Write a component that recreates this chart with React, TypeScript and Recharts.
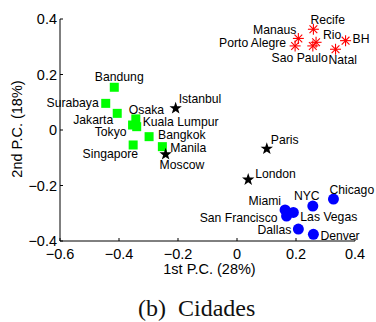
import React from 'react';
import { ScatterChart, Scatter, XAxis, YAxis } from 'recharts';

// ---- data ----
const asiaNames = ['Bandung', 'Surabaya', 'Jakarta', 'Osaka', 'Tokyo', 'Kuala Lumpur', 'Bangkok', 'Singapore', 'Manila'];
const asiaX = [-0.416, -0.445, -0.406, -0.343, -0.354, -0.34, -0.298, -0.352, -0.253];
const asiaY = [0.154, 0.096, 0.06, 0.04, 0.018, 0.012, -0.024, -0.054, -0.06];

const europeNames = ['Istanbul', 'Moscow', 'Paris', 'London'];
const europeX = [-0.208, -0.242, 0.101, 0.038];
const europeY = [0.08, -0.086, -0.066, -0.177];

const brazilNames = ['Recife', 'Manaus', 'Porto Alegre', 'Rio', 'Sao Paulo', 'BH', 'Natal'];
const brazilX = [0.259, 0.208, 0.197, 0.268, 0.257, 0.368, 0.334];
const brazilY = [0.363, 0.33, 0.303, 0.316, 0.303, 0.322, 0.291];

const usaNames = ['Chicago', 'NYC', 'Miami', 'Las Vegas', 'San Francisco', 'Dallas', 'Denver'];
const usaX = [0.327, 0.257, 0.163, 0.191, 0.168, 0.208, 0.259];
const usaY = [-0.249, -0.274, -0.288, -0.297, -0.31, -0.357, -0.376];

const xTicks = [-0.6, -0.4, -0.2, 0, 0.2, 0.4];
const yTicks = [-0.4, -0.2, 0, 0.2, 0.4];
const xLabel = '1st P.C. (28%)';
const yLabel = '2nd P.C. (18%)';
const captionTag = '(b)';
const captionText = 'Cidades';

// ---- label placement (styling only) ----
type Anchor = 'start' | 'middle' | 'end';
const labelPlacement: Record<string, [number, number, Anchor]> = {
  Bandung: [5, -10, 'middle'],
  Surabaya: [-7, 0, 'end'],
  Jakarta: [-4, 7, 'end'],
  Osaka: [-7, -9, 'start'],
  Tokyo: [-6, 7, 'end'],
  'Kuala Lumpur': [6, -4.5, 'start'],
  Bangkok: [9, -1.5, 'start'],
  Manila: [8, 1.5, 'start'],
  Singapore: [5, 9, 'end'],
  Moscow: [-6, 11, 'start'],
  Istanbul: [3, -9, 'start'],
  Recife: [-3, -9, 'start'],
  Manaus: [-2, -8, 'end'],
  'Porto Alegre': [-9, -3, 'end'],
  Rio: [7, -7, 'start'],
  'Sao Paulo': [15, 12, 'end'],
  Natal: [-7, 11, 'start'],
  BH: [7, -2, 'start'],
  Paris: [4, -8, 'start'],
  London: [7, -5, 'start'],
  Chicago: [-4, -9, 'start'],
  NYC: [-6, -10, 'middle'],
  Miami: [-4, -9, 'end'],
  'San Francisco': [-9, 2, 'end'],
  'Las Vegas': [7, 5, 'start'],
  Dallas: [-7, 1, 'end'],
  Denver: [7, 2, 'start'],
};

const build = (names: string[], xs: number[], ys: number[]) =>
  names.map((name, i) => ({ name, x: xs[i], y: ys[i] }));

const asiaData = build(asiaNames, asiaX, asiaY);
const europeData = build(europeNames, europeX, europeY);
const brazilData = build(brazilNames, brazilX, brazilY);
const usaData = build(usaNames, usaX, usaY);

const SANS = '"Liberation Sans", Arial, Helvetica, sans-serif';

const PointLabel = ({ cx, cy, name }: { cx: number; cy: number; name: string }) => {
  const p = labelPlacement[name] || [6, 0, 'start'];
  return (
    <text
      x={cx + p[0]}
      y={cy + p[1]}
      textAnchor={p[2]}
      dominantBaseline="central"
      fontFamily={SANS}
      fontSize={12.2}
      fill="#000"
    >
      {name}
    </text>
  );
};

const SquareShape = (props: any) => {
  const { cx, cy, payload } = props;
  return (
    <g>
      <rect x={cx - 4.5} y={cy - 4.5} width={9} height={9} fill="#00ff00" />
      <PointLabel cx={cx} cy={cy} name={payload.name} />
    </g>
  );
};

const CircleShape = (props: any) => {
  const { cx, cy, payload } = props;
  return (
    <g>
      <circle cx={cx} cy={cy} r={5.5} fill="#0000ff" />
      <PointLabel cx={cx} cy={cy} name={payload.name} />
    </g>
  );
};

const starPath = (cx: number, cy: number, ro: number, ri: number) => {
  let d = '';
  for (let i = 0; i < 10; i++) {
    const r = i % 2 === 0 ? ro : ri;
    const a = -Math.PI / 2 + (i * Math.PI) / 5;
    d += (i === 0 ? 'M' : 'L') + (cx + r * Math.cos(a)).toFixed(2) + ',' + (cy + r * Math.sin(a)).toFixed(2);
  }
  return d + 'Z';
};

const StarShape = (props: any) => {
  const { cx, cy, payload } = props;
  return (
    <g>
      <path d={starPath(cx, cy + 0.5, 6.5, 2.6)} fill="#000" />
      <PointLabel cx={cx} cy={cy} name={payload.name} />
    </g>
  );
};

const AsteriskShape = (props: any) => {
  const { cx, cy, payload } = props;
  const r = 5.5;
  const d = r * 0.707;
  return (
    <g>
      <g stroke="#ff0000" strokeWidth={1.1}>
        <line x1={cx - r} y1={cy} x2={cx + r} y2={cy} />
        <line x1={cx} y1={cy - r} x2={cx} y2={cy + r} />
        <line x1={cx - d} y1={cy - d} x2={cx + d} y2={cy + d} />
        <line x1={cx - d} y1={cy + d} x2={cx + d} y2={cy - d} />
      </g>
      <PointLabel cx={cx} cy={cy} name={payload.name} />
    </g>
  );
};

const fmt = (v: number) => (v === 0 ? '0' : (v < 0 ? '\u2212' : '') + Math.abs(v).toFixed(1));

const XLabel = (props: any) => {
  const vb = props.viewBox || { x: 60, y: 241, width: 295, height: 40 };
  return (
    <text
      x={vb.x + vb.width / 2 + 2}
      y={vb.y + 28}
      textAnchor="middle"
      dominantBaseline="central"
      fontFamily={SANS}
      fontSize={14.5}
      fill="#000"
    >
      {xLabel}
    </text>
  );
};

const YLabel = (props: any) => {
  const vb = props.viewBox || { x: 0, y: 19, width: 60, height: 222 };
  const cx = vb.x + 16.5;
  const cy = vb.y + vb.height / 2 - 1;
  return (
    <text
      x={cx}
      y={cy}
      transform={`rotate(-90 ${cx} ${cy})`}
      textAnchor="middle"
      dominantBaseline="central"
      fontFamily={SANS}
      fontSize={14.5}
      fill="#000"
    >
      {yLabel}
    </text>
  );
};

export default function App() {
  return (
    <div style={{ position: 'absolute', left: 0, top: 0, width: 376, height: 322, background: '#fff' }}>
      <ScatterChart width={376} height={322} margin={{ top: 19, right: 21, bottom: 41, left: 0 }}>
        <XAxis
          type="number"
          dataKey="x"
          domain={[-0.6, 0.4]}
          ticks={xTicks}
          tickFormatter={fmt}
          height={40}
          axisLine={{ stroke: '#000' }}
          tickLine={{ stroke: '#000' }}
          tickSize={-3}
          tickMargin={11}
          tick={{ fill: '#000', fontSize: 14.5, fontFamily: SANS }}
          interval={0}
          label={<XLabel />}
        />
        <YAxis
          type="number"
          dataKey="y"
          domain={[-0.4, 0.4]}
          ticks={yTicks}
          tickFormatter={fmt}
          width={60}
          axisLine={{ stroke: '#000' }}
          tickLine={{ stroke: '#000' }}
          tickSize={-3}
          tickMargin={6}
          tick={{ fill: '#000', fontSize: 14.5, fontFamily: SANS }}
          interval={0}
          label={<YLabel />}
        />
        <Scatter data={asiaData} shape={SquareShape} isAnimationActive={false} />
        <Scatter data={europeData} shape={StarShape} isAnimationActive={false} />
        <Scatter data={brazilData} shape={AsteriskShape} isAnimationActive={false} />
        <Scatter data={usaData} shape={CircleShape} isAnimationActive={false} />
      </ScatterChart>
      <svg style={{ position: 'absolute', left: 0, top: 0, pointerEvents: 'none' }} width={376} height={322}>
        <text x={138} y={316} fontFamily='"Liberation Serif", "Times New Roman", serif' fontSize={24} fill="#111">
          {captionTag}
        </text>
        <text x={178} y={316} fontFamily='"Liberation Serif", "Times New Roman", serif' fontSize={24} fill="#111">
          {captionText}
        </text>
      </svg>
    </div>
  );
}
